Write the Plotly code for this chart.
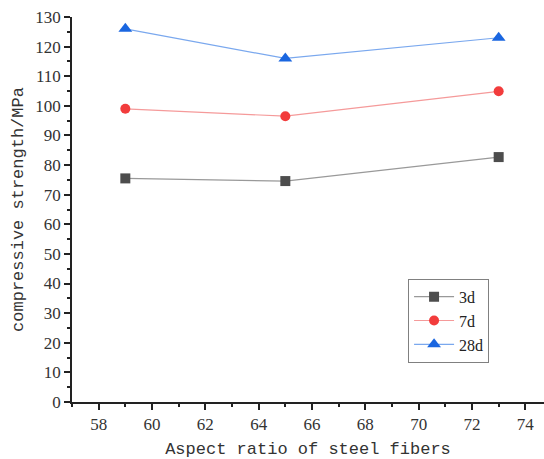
import plotly.graph_objects as go

aspect_ratio = [59, 65, 73]
strength_3d = [75.5, 74.6, 82.7]
strength_7d = [99.0, 96.5, 104.9]
strength_28d = [126.0, 116.0, 123.0]

series = [
    ("3d", strength_3d, "#4d4d4d", "#999999", "square"),
    ("7d", strength_7d, "#f23c3c", "#f59a9a", "circle"),
    ("28d", strength_28d, "#1a66e0", "#7aa8ee", "triangle-up"),
]

fig = go.Figure()
for name, vals, mc, lc, sym in series:
    fig.add_trace(go.Scatter(
        x=aspect_ratio, y=vals, name=name, mode="lines+markers",
        line=dict(color=lc, width=1.2),
        marker=dict(symbol=sym, size=10 if sym != "triangle-up" else 12, color=mc,
                    line=dict(width=0)),
    ))

serif = "Liberation Serif"
mono = "Liberation Mono"

fig.update_layout(
    width=544, height=459,
    margin=dict(l=72, r=0, t=17, b=57),
    plot_bgcolor="white", paper_bgcolor="white",
    showlegend=True,
    font=dict(family=serif),
    legend=dict(x=0.712, y=0.32, xanchor="left", yanchor="top",
                bordercolor="#808080", borderwidth=1, bgcolor="white",
                font=dict(family=serif, size=16, color="#222"),
                tracegroupgap=0, itemwidth=40),
    xaxis=dict(range=[57, 74.7], tickvals=list(range(58, 76, 2)),
               ticks="outside", ticklen=6, tickwidth=1.5, tickcolor="#222",
               minor=dict(dtick=1, ticks="outside", ticklen=3, tickwidth=1.5, tickcolor="#222"),
               showline=True, linecolor="#222", linewidth=1.5,
               showgrid=False, zeroline=False,
               tickfont=dict(family=serif, size=17, color="#333"),
               title=dict(text="Aspect ratio of steel fibers", standoff=9,
                          font=dict(family=mono, size=17, color="#333"))),
    yaxis=dict(range=[0, 130], dtick=10,
               ticks="outside", ticklen=6, tickwidth=1.5, tickcolor="#222",
               minor=dict(dtick=5, ticks="outside", ticklen=3, tickwidth=1.5, tickcolor="#222"),
               showline=True, linecolor="#222", linewidth=1.5,
               showgrid=False, zeroline=False,
               tickfont=dict(family=serif, size=17, color="#333"),
               title=dict(text="compressive strength/MPa", standoff=7,
                          font=dict(family=mono, size=17, color="#333"))),
)

fig.write_html("out.html")
